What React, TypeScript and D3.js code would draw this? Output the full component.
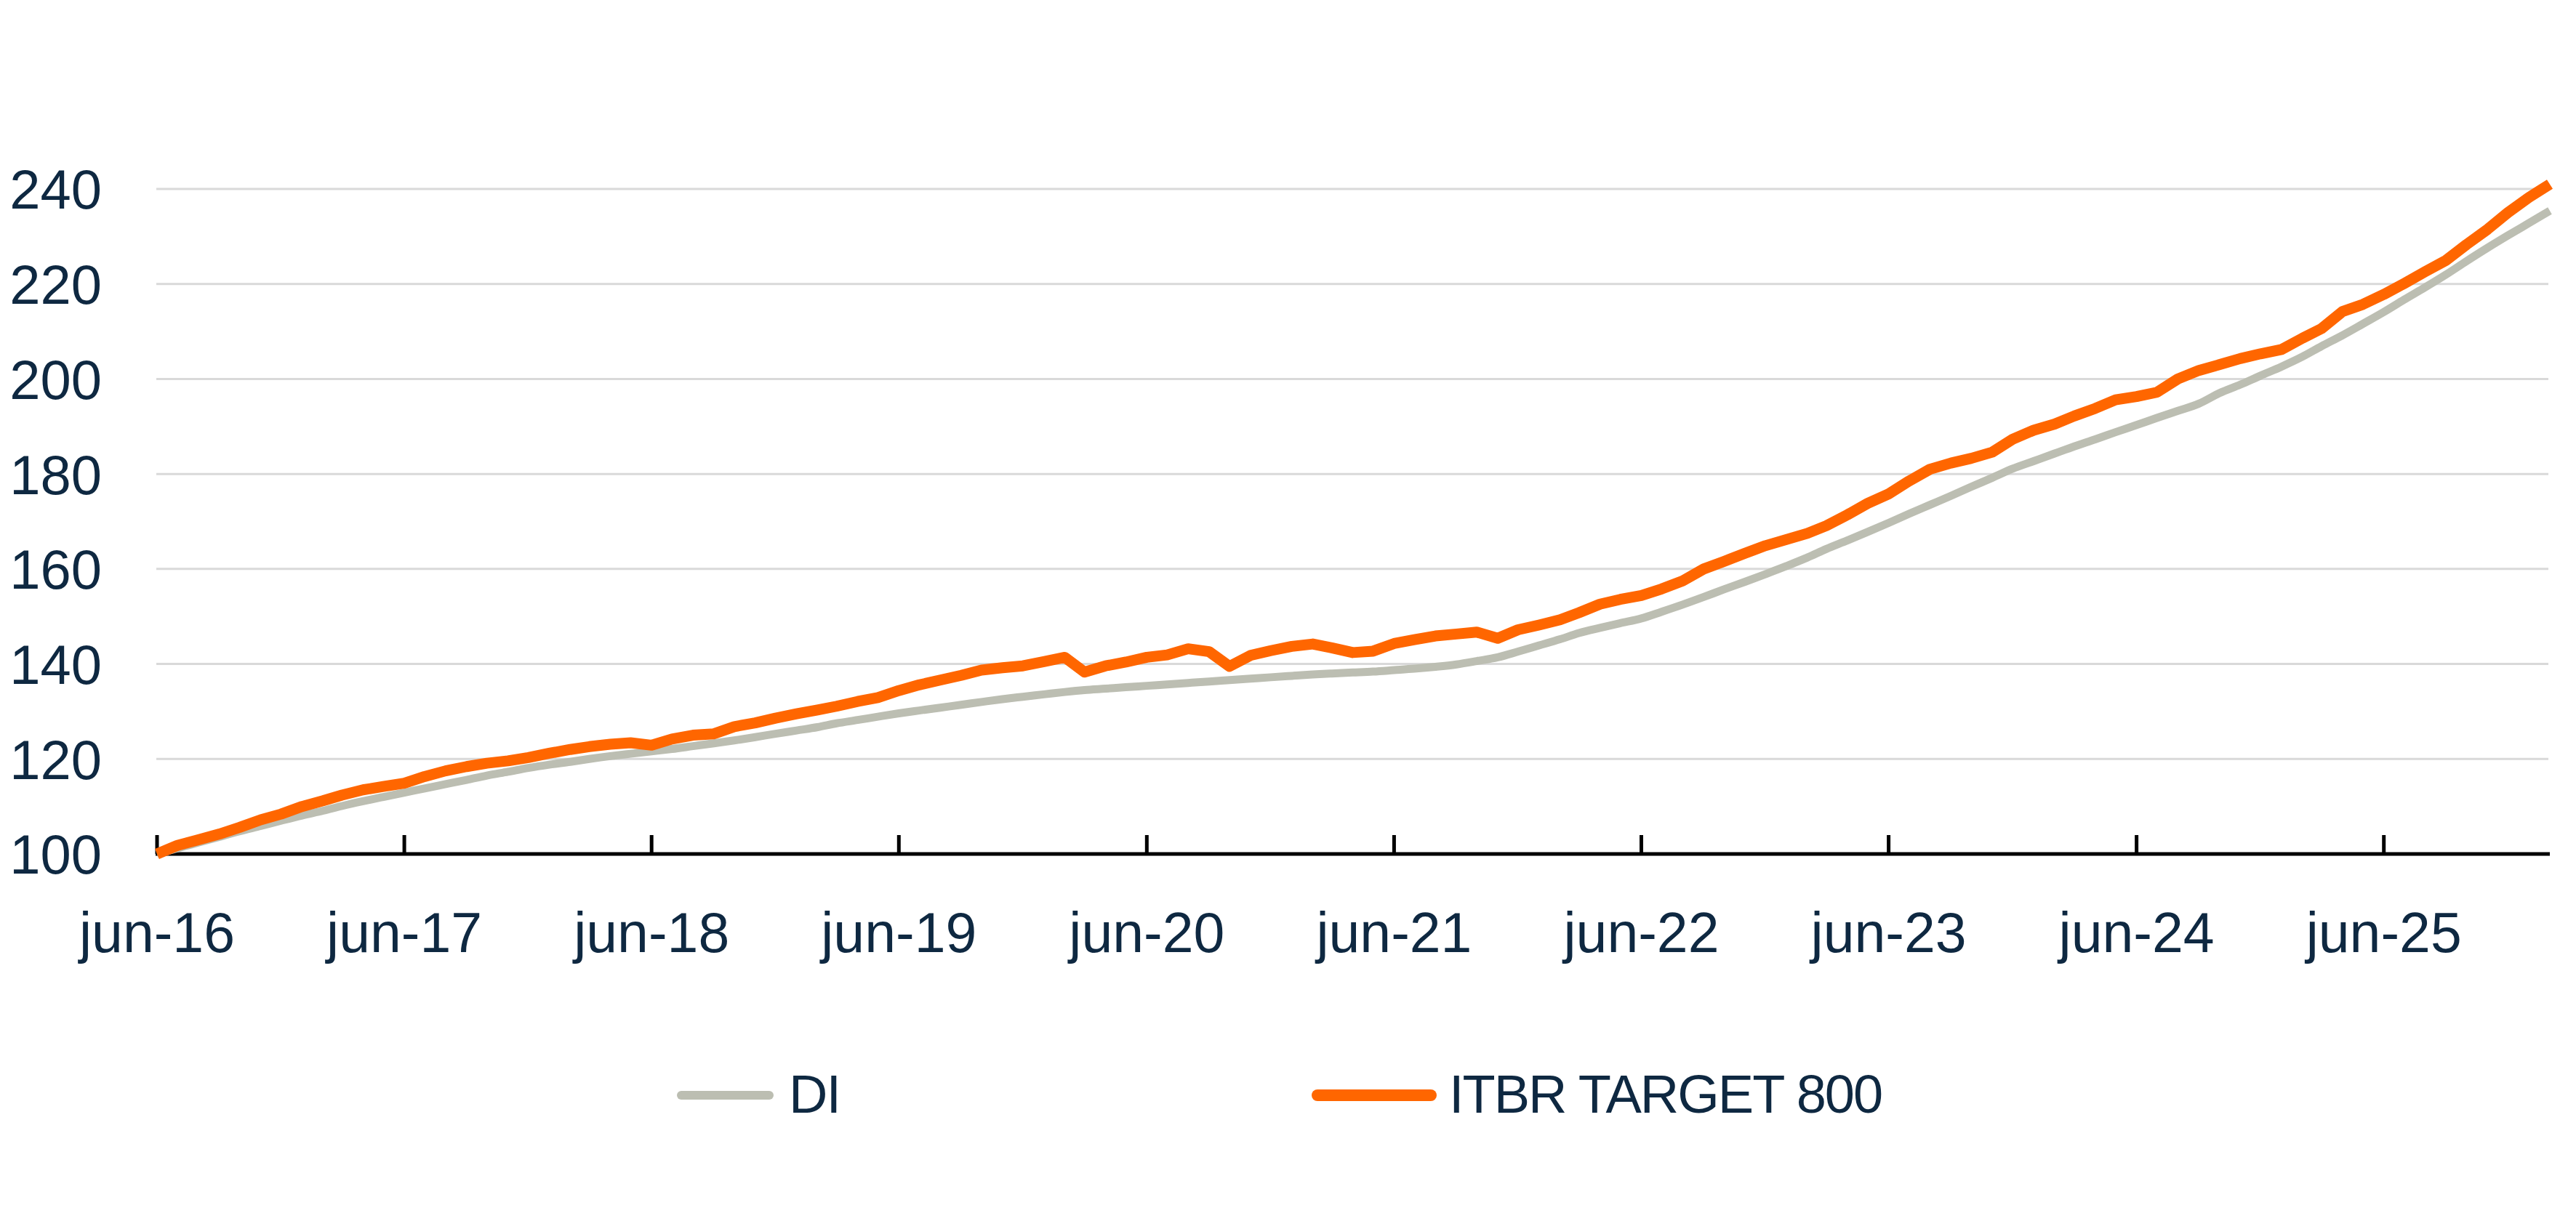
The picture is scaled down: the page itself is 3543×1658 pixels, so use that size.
import { useEffect, useRef } from "react";
import * as d3 from "d3";

// monthly closes, first value = jun-16, last value = feb-26
const startMonth = new Date(2016, 5, 1);

const diValues = [
  100.0, 101.2, 102.4, 103.6, 104.8, 105.9, 107.0, 108.1, 109.1, 110.1, 111.1, 112.0,
  112.9, 113.8, 114.7, 115.6, 116.5, 117.3, 118.1, 118.8, 119.4, 120.0, 120.6, 121.1,
  121.6, 122.1, 122.7, 123.3, 123.9, 124.6, 125.3, 126.0, 126.7, 127.5, 128.2, 128.9,
  129.6, 130.2, 130.8, 131.4, 132.0, 132.6, 133.1, 133.6, 134.1, 134.5, 134.8, 135.1,
  135.4, 135.7, 136.0, 136.3, 136.6, 136.9, 137.2, 137.5, 137.8, 138.0, 138.2, 138.4,
  138.7, 139.0, 139.4, 139.9, 140.6, 141.4, 142.6, 143.9, 145.2, 146.5, 147.6, 148.6,
  149.6, 151.0, 152.5, 154.1, 155.7, 157.3, 158.9, 160.6, 162.4, 164.2, 166.0, 167.8,
  169.7, 171.6, 173.5, 175.4, 177.3, 179.2, 181.1, 182.7, 184.3, 185.8, 187.3, 188.8,
  190.3, 191.8, 193.3, 194.8, 197.0, 198.8, 200.7, 202.6, 204.7, 206.9, 209.2, 211.6,
  214.1, 216.7, 219.3, 222.0, 224.8, 227.6, 230.2, 232.8, 235.4,
];

const itbrValues = [
  100.0, 101.8, 103.0, 104.2, 105.6, 107.2, 108.4, 110.0, 111.2, 112.4, 113.5, 114.2,
  114.9, 116.3, 117.5, 118.4, 119.1, 119.6, 120.3, 121.2, 122.0, 122.6, 123.1, 123.4,
  122.9, 124.2, 125.0, 125.3, 126.8, 127.6, 128.6, 129.5, 130.3, 131.1, 132.1, 132.9,
  134.4, 135.6, 136.6, 137.6, 138.7, 139.2, 139.6, 140.5, 141.4, 138.3, 139.6, 140.4,
  141.4, 141.9, 143.2, 142.6, 139.5, 141.8, 142.8, 143.7, 144.2, 143.4, 142.4, 142.7,
  144.3, 145.1, 145.9, 146.3, 146.7, 145.4, 147.2, 148.2, 149.3, 150.8, 152.6, 153.6,
  154.4, 155.8, 157.5, 160.0, 161.6, 163.3, 164.9, 166.2, 167.5, 169.1, 171.4, 173.8,
  175.8, 178.5, 181.0, 182.3, 183.3, 184.6, 187.3, 189.2, 190.5, 192.2, 193.8, 195.6,
  196.3, 197.2, 200.0, 201.8, 203.0, 204.3, 205.3, 206.2, 208.6, 210.6, 214.2, 215.7,
  217.8, 220.1, 222.6, 225.0, 228.3, 231.5, 235.0, 238.2, 241.0,
];

const yTicks = [100, 120, 140, 160, 180, 200, 220, 240];
const xTickYears = [2016, 2017, 2018, 2019, 2020, 2021, 2022, 2023, 2024, 2025];
const seriesNames = ["DI", "ITBR TARGET 800"];

const W = 3543;
const H = 1658;
const FONT = '"Liberation Sans", Arial, sans-serif';
const TEXT = "#0e2841";
const GREY = "#bcbeb2";
const ORANGE = "#ff6600";

export default function App() {
  const svgRef = useRef<SVGSVGElement>(null);

  useEffect(() => {
    if (!svgRef.current) return;
    const svg = d3.select(svgRef.current);
    svg.selectAll("*").remove();

    const dates = diValues.map((_, i) => d3.timeMonth.offset(startMonth, i));
    const x = d3
      .scaleTime()
      .domain([dates[0], dates[dates.length - 1]])
      .range([216, 3507]);
    const y = d3.scaleLinear().domain([100, 240]).range([1175, 260]);

    // gridlines
    svg
      .append("g")
      .selectAll("line")
      .data(yTicks.filter((v) => v > 100))
      .join("line")
      .attr("x1", 215)
      .attr("x2", 3505)
      .attr("y1", (d) => y(d))
      .attr("y2", (d) => y(d))
      .attr("stroke", "#d9d9d9")
      .attr("stroke-width", 3);

    // y labels
    svg
      .append("g")
      .selectAll("text")
      .data(yTicks)
      .join("text")
      .attr("x", 140)
      .attr("y", (d) => y(d))
      .attr("dy", "0.36em")
      .attr("text-anchor", "end")
      .attr("font-family", FONT)
      .attr("font-size", 76)
      .attr("fill", TEXT)
      .text((d) => d);

    // x axis + ticks pointing up
    const tickDates = xTickYears.map((yr) => new Date(yr, 5, 1));
    svg
      .append("line")
      .attr("x1", 214)
      .attr("x2", 3507)
      .attr("y1", y(100))
      .attr("y2", y(100))
      .attr("stroke", "#000")
      .attr("stroke-width", 5);
    svg
      .append("g")
      .selectAll("line")
      .data(tickDates)
      .join("line")
      .attr("x1", (d) => x(d))
      .attr("x2", (d) => x(d))
      .attr("y1", y(100))
      .attr("y2", y(100) - 26)
      .attr("stroke", "#000")
      .attr("stroke-width", 5);
    svg
      .append("g")
      .selectAll("text")
      .data(tickDates)
      .join("text")
      .attr("x", (d) => x(d))
      .attr("y", 1310)
      .attr("text-anchor", "middle")
      .attr("font-family", FONT)
      .attr("font-size", 77)
      .attr("fill", TEXT)
      .text((d) => d3.timeFormat("%b-%y")(d).toLowerCase());

    // series
    const di = d3
      .line<number>()
      .x((_, i) => x(dates[i]))
      .y((d) => y(d))
      .curve(d3.curveMonotoneX);
    const itbr = d3
      .line<number>()
      .x((_, i) => x(dates[i]))
      .y((d) => y(d))
      .curve(d3.curveLinear);

    svg
      .append("path")
      .datum(diValues)
      .attr("fill", "none")
      .attr("stroke", GREY)
      .attr("stroke-width", 11)
      .attr("d", di);
    svg
      .append("path")
      .datum(itbrValues)
      .attr("fill", "none")
      .attr("stroke", ORANGE)
      .attr("stroke-width", 15)
      .attr("stroke-linejoin", "round")
      .attr("d", itbr);

    // legend
    const legend = [
      { name: seriesNames[0], color: GREY, x0: 937, x1: 1058, sw: 12, tx: 1085 },
      { name: seriesNames[1], color: ORANGE, x0: 1812, x1: 1968, sw: 16, tx: 1993 },
    ];
    const lg = svg.append("g");
    legend.forEach((l) => {
      lg.append("line")
        .attr("x1", l.x0)
        .attr("x2", l.x1)
        .attr("y1", 1507)
        .attr("y2", 1507)
        .attr("stroke", l.color)
        .attr("stroke-width", l.sw)
        .attr("stroke-linecap", "round");
      lg.append("text")
        .attr("x", l.tx)
        .attr("y", 1531)
        .attr("font-family", FONT)
        .attr("font-size", 74)
        .attr("letter-spacing", -2)
        .attr("fill", TEXT)
        .text(l.name);
    });
  }, []);

  return (
    <div style={{ position: "absolute", left: 0, top: 0, background: "#fff" }}>
      <svg ref={svgRef} width={W} height={H} style={{ display: "block" }} />
    </div>
  );
}
